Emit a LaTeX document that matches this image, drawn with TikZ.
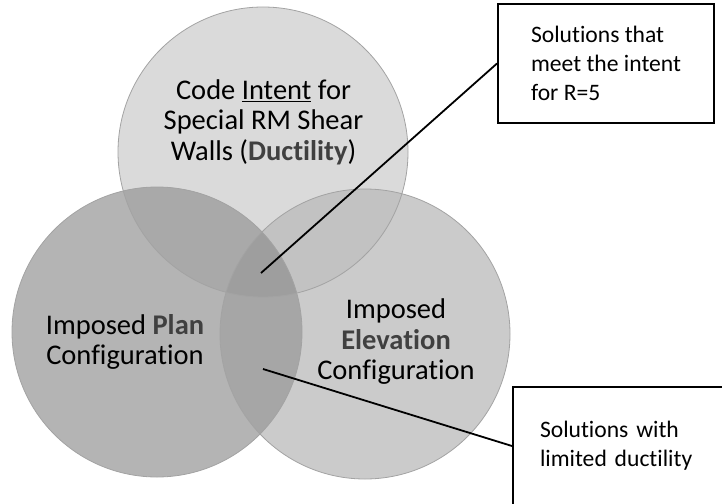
\documentclass[tikz,border=0pt]{standalone}
\usepackage{fontspec}
\setmainfont{Carlito}[Ligatures=NoCommon]
\usetikzlibrary{positioning}
\definecolor{ringtop}{HTML}{DADADA}
\definecolor{ringleft}{HTML}{B4B4B4}
\definecolor{ringright}{HTML}{CBCBCB}
\definecolor{ringtl}{HTML}{A9A9A9}
\definecolor{ringtr}{HTML}{C2C2C2}
\definecolor{ringlr}{HTML}{A6A6A6}
\definecolor{ringall}{HTML}{9E9E9E}
\definecolor{ringedge}{HTML}{A3A3A3}
\definecolor{keygray}{HTML}{404040}

\begin{document}
\begin{tikzpicture}[x=1pt, y=-1pt,
  venntext/.style={align=center, font=\fontsize{28.5}{30.5}\selectfont},
  calloutbox/.style={draw, fill=white, line width=2pt, align=left, font=\fontsize{23.6}{29}\selectfont},
  leader/.style={line width=1.8pt}]
  \useasboundingbox (0,0) rectangle (722,503);
  \coordinate (ctop) at (263,152);
  \coordinate (cleft) at (157,332);
  \coordinate (cright) at (365,334);
  % the three sets
  \fill[ringtop] (ctop) circle[radius=145pt];
  \fill[ringleft] (cleft) circle[radius=145pt];
  \fill[ringright] (cright) circle[radius=145pt];
  \begin{scope}
    \clip (ctop) circle[radius=145pt];
    \fill[ringtl] (cleft) circle[radius=145pt];
    \fill[ringtr] (cright) circle[radius=145pt];
  \end{scope}
  \begin{scope}
    \clip (cleft) circle[radius=145pt];
    \fill[ringlr] (cright) circle[radius=145pt];
    \clip (ctop) circle[radius=145pt];
    \fill[ringall] (cright) circle[radius=145pt];
  \end{scope}
  \foreach \c in {ctop, cleft, cright}
    \draw[ringedge, line width=0.8pt] (\c) circle[radius=145pt];
  % labels of the sets
  \node[venntext] (intent) at (263.5,122)
    {Code \underline{Intent} for\\Special RM Shear\\Walls (\textbf{\color{keygray}Ductility})};
  \node[venntext] (plan) at (125,342)
    {Imposed \textbf{\color{keygray}Plan}\\Configuration};
  \node[venntext] (elevation) at (396,342)
    {Imposed\\\textbf{\color{keygray}Elevation}\\Configuration};
  % callouts
  \coordinate (core) at (261,273);
  \coordinate (lens) at (263,369);
  \node[calloutbox, minimum width=216pt, minimum height=119pt, anchor=north west] (meetbox) at (497,3)
    {Solutions that\\meet the intent\\for R=5};
  \node[calloutbox, text width=175pt, inner xsep=27pt, minimum height=118pt, anchor=north west] (limitbox) at (512,386)
    {Solutions with\\limited ductility};
  \draw[leader] (core) -- (meetbox.west);
  \draw[leader] (lens) -- (limitbox.west);
\end{tikzpicture}
\end{document}
